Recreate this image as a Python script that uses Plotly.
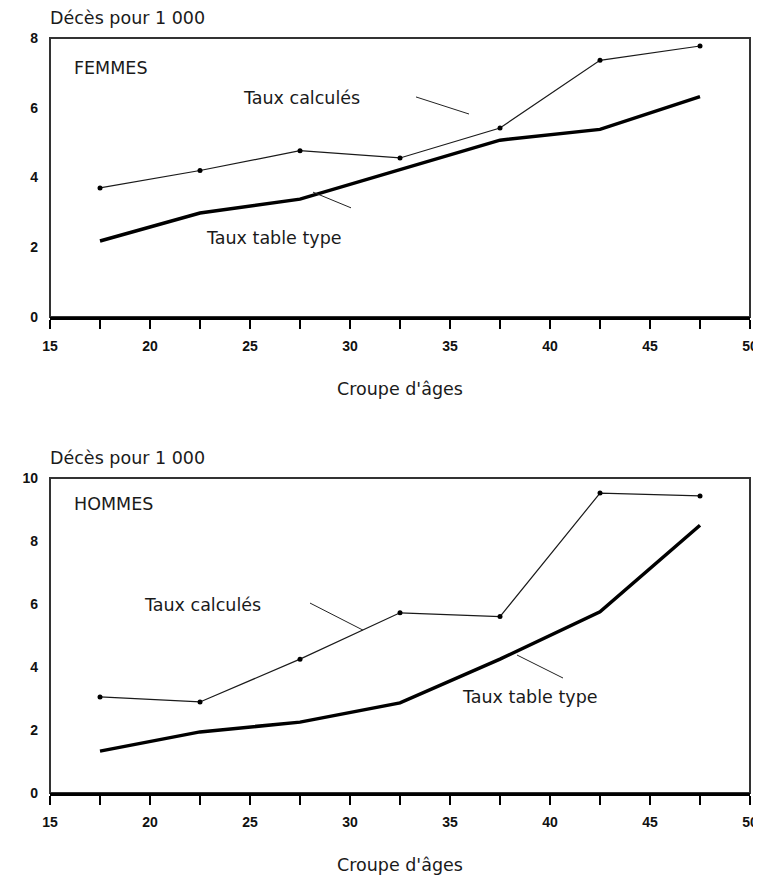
import plotly.graph_objects as go

# age groups (mid-points of 5-year groups)
ages = [17.5, 22.5, 27.5, 32.5, 37.5, 42.5, 47.5]

# FEMMES - deaths per 1 000
femmes_calcules = [3.7, 4.2, 4.77, 4.56, 5.42, 7.36, 7.77]
femmes_table = [2.18, 2.98, 3.38, 4.22, 5.07, 5.38, 6.32]

# HOMMES - deaths per 1 000
hommes_calcules = [3.05, 2.89, 4.25, 5.72, 5.6, 9.52, 9.43]
hommes_table = [1.33, 1.94, 2.25, 2.86, 4.25, 5.75, 8.5]

x_tick_vals = [15, 17.5, 20, 22.5, 25, 27.5, 30, 32.5, 35, 37.5, 40, 42.5, 45, 47.5, 50]
x_tick_text = ["15", "", "20", "", "25", "", "30", "", "35", "", "40", "", "45", "", "50"]

# the page body has an 8px margin, so the figure is drawn 8px smaller
OFF = 8
W, H = 761 - OFF, 877 - OFF
TEXT_FONT = "'DejaVu Sans', sans-serif"
TEXT_SIZE = 17.5
TICK_FONT = "'Liberation Sans', Arial, sans-serif"


def px_x(p):
    # window pixel column -> paper x
    return (p - OFF) / W


def px_y(p):
    # window pixel row -> paper y
    return 1 - (p - OFF) / H


text_font = dict(family=TEXT_FONT, size=TEXT_SIZE, color="#1a1a1a")
tick_font = dict(family=TICK_FONT, size=14, color="#111", weight="bold")

fig = go.Figure()

panels = [
    # (xaxis, yaxis, calc, table, ymax, top px, bottom px, sex label, label y)
    ("x", "y", femmes_calcules, femmes_table, 8, 38, 317, "FEMMES", 7.14),
    ("x2", "y2", hommes_calcules, hommes_table, 10, 478, 793, "HOMMES", 9.17),
]

for i, (xa, ya, calc, table, ymax, top, bottom, sexe, sexe_y) in enumerate(panels):
    fig.add_trace(go.Scatter(
        x=ages, y=calc, mode="lines+markers", xaxis=xa, yaxis=ya,
        line=dict(color="#1a1a1a", width=1.2),
        marker=dict(color="#000", size=5),
        showlegend=False,
    ))
    fig.add_trace(go.Scatter(
        x=ages, y=table, mode="lines", xaxis=xa, yaxis=ya,
        line=dict(color="#000", width=3.5),
        showlegend=False,
    ))

    suffix = "" if i == 0 else "2"
    fig.update_layout(**{
        f"xaxis{suffix}": dict(
            domain=[px_x(50), px_x(750)], anchor=ya, range=[15, 50],
            tickmode="array", tickvals=x_tick_vals, ticktext=x_tick_text,
            ticks="outside", ticklen=9, tickwidth=2, tickcolor="#000",
            showline=True, linecolor="#000", linewidth=3,
            showgrid=False, zeroline=False, automargin=False,
            ticklabelstandoff=5, ticklabeloverflow="allow", tickfont=tick_font,
        ),
        f"yaxis{suffix}": dict(
            domain=[px_y(bottom), px_y(top)], anchor=xa, range=[0, ymax],
            dtick=2, ticks="", showline=False, showgrid=False, zeroline=False,
            automargin=False, ticklabelstandoff=11, tickfont=tick_font,
        ),
    })

    # frame around the plot area
    fig.add_shape(type="rect", xref=f"{xa} domain", yref=f"{ya} domain",
                  x0=0, x1=1, y0=0, y1=1, layer="below",
                  line=dict(color="#333", width=2))

    # y title, x title and sex label
    fig.add_annotation(text="Décès pour 1 000", xref="paper", yref="paper",
                       x=px_x(48), y=px_y(top - 20), xanchor="left", yanchor="middle",
                       showarrow=False, font=text_font)
    fig.add_annotation(text="Croupe d'âges", xref="paper", yref="paper",
                       x=px_x(400), y=px_y(bottom + 72), xanchor="center", yanchor="middle",
                       showarrow=False, font=text_font)
    fig.add_annotation(text=sexe, xref=xa, yref=ya, x=16.1, y=sexe_y,
                       xanchor="left", yanchor="middle",
                       showarrow=False, font=text_font)

# series labels and leader lines (label x, label y, line x0, y0, x1, y1)
labels = [
    ("x", "y", "Taux calculés", 27.55, 6.28, 33.3, 6.31, 35.95, 5.82),
    ("x", "y", "Taux table type", 26.2, 2.27, 30.05, 3.13, 28.15, 3.58),
    ("x2", "y2", "Taux calculés", 22.6, 5.97, 28.0, 6.03, 30.65, 5.17),
    ("x2", "y2", "Taux table type", 38.98, 3.05, 40.65, 3.65, 38.35, 4.38),
]
for xa, ya, txt, tx, ty, lx0, ly0, lx1, ly1 in labels:
    fig.add_annotation(text=txt, xref=xa, yref=ya, x=tx, y=ty,
                       xanchor="center", yanchor="middle", showarrow=False,
                       font=text_font)
    fig.add_shape(type="line", xref=xa, yref=ya, x0=lx0, y0=ly0, x1=lx1, y1=ly1,
                  line=dict(color="#222", width=1))

fig.update_layout(
    width=W, height=H,
    margin=dict(l=0, r=0, t=0, b=0),
    paper_bgcolor="white", plot_bgcolor="white",
    template="none",
    showlegend=False,
)

fig.write_html("out.html")
